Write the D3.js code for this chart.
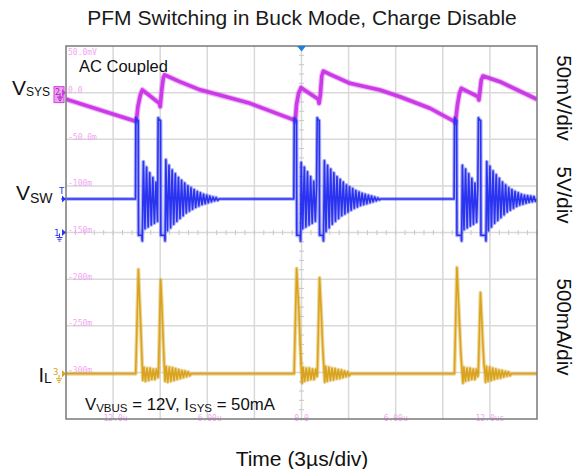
<!DOCTYPE html>
<html><head><meta charset="utf-8">
<script src="https://cdn.jsdelivr.net/npm/d3@7"></script>
<style>body{margin:0;background:#fff}svg{display:block}</style>
</head><body>
<script>
// ---------- data ----------
const title = "PFM Switching in Buck Mode, Charge Disable";
const timeTicks = [-12, -6, 0, 6, 12];               // µs
const timeTickLabels = ["-12.0u", "-6.00u", "0.0", "6.00u", "12.0us"];
const scaleLabelDivs = [4, 3, 2, 1, 0, -1, -2, -3];
const scaleLabels = ["50.0mV", "0.0", "-50.0m", "-100m", "-150m", "-200m", "-250m", "-300m"];

// V_SYS (AC coupled) : [time µs, mV]
const vsys = [
  [-15.0, -7], [-10.52, -31], [-10.42, -15], [-10.27, -3], [-10.14, 3],
  [-9.05, -11.5], [-9.0, -15], [-8.90, 3], [-8.80, 16], [-8.72, 19],
  [-7.8, 12], [-6.46, 3], [-3.28, -11.5], [-0.45, -29.5], [-0.40, -31],
  [-0.32, -13], [-0.19, -1], [-0.03, 5.3], [1.07, -7], [1.12, -11.5],
  [1.20, -2.6], [1.29, 17.8], [1.39, 23], [1.82, 19.6], [3.09, 10],
  [5.0, 2.8], [6.27, -4.4], [8.18, -16.8], [9.74, -31], [9.80, -32.6],
  [9.93, -13.3], [10.06, -0.8], [10.18, 4.6], [11.24, -4.4], [11.30, -7.9],
  [11.36, 0.6], [11.45, 13.5], [11.56, 17.8], [12.64, 11.7], [15.0, -7.2]
];

// V_SW : [time µs, V]
const vsw = [
  [-15.0, 3.6],
  [-10.57, 3.6], [-10.55, 12.3], [-10.50, 12.1], [-10.40, 12.0], [-10.38, -0.3], [-10.17, -0.3], [-10.14, -0.9],
  [-10.07, 7.6], [-9.97, 0.4], [-9.87, 7.0], [-9.77, 0.6], [-9.67, 6.4], [-9.57, 0.8], [-9.47, 5.9], [-9.37, 1.0], [-9.27, 5.4], [-9.17, 1.2],
  [-9.13, 12.3], [-9.08, 12.1], [-8.98, 12.0], [-8.96, -0.3], [-8.72, -0.3], [-8.69, -0.9],
  [-8.64, 7.8], [-8.54, 0.2], [-8.44, 7.2], [-8.34, 0.5], [-8.24, 6.7], [-8.14, 0.9], [-8.04, 6.3], [-7.94, 1.2],
  [-7.84, 5.9], [-7.74, 1.5], [-7.64, 5.6], [-7.54, 1.8], [-7.44, 5.3], [-7.34, 2.1], [-7.24, 5.0], [-7.14, 2.3],
  [-7.04, 4.8], [-6.94, 2.5], [-6.84, 4.6], [-6.74, 2.7], [-6.64, 4.4], [-6.54, 2.85], [-6.44, 4.25], [-6.34, 3.0],
  [-6.24, 4.1], [-6.14, 3.1], [-6.04, 4.0], [-5.94, 3.2], [-5.84, 3.9], [-5.74, 3.3], [-5.64, 3.8], [-5.54, 3.4],
  [-5.44, 3.75], [-5.34, 3.45], [-5.24, 3.6],
  [-0.49, 3.6], [-0.46, 12.3], [-0.41, 12.1], [-0.32, 12.0], [-0.30, -0.3], [-0.09, -0.3], [-0.06, -0.9],
  [-0.02, 7.5], [0.08, 0.4], [0.18, 7.0], [0.28, 0.6], [0.38, 6.5], [0.48, 0.8], [0.58, 6.0], [0.68, 1.0], [0.78, 5.5], [0.88, 1.2], [0.96, 4.8],
  [1.00, 12.3], [1.05, 12.1], [1.13, 12.0], [1.15, -0.3], [1.37, -0.3], [1.40, -0.9],
  [1.46, 7.7], [1.56, 0.1], [1.66, 7.2], [1.76, 0.5], [1.86, 6.8], [1.96, 0.9], [2.06, 6.4], [2.16, 1.2],
  [2.26, 6.0], [2.36, 1.5], [2.46, 5.7], [2.56, 1.8], [2.66, 5.4], [2.76, 2.0], [2.86, 5.1], [2.96, 2.2],
  [3.06, 4.9], [3.16, 2.4], [3.26, 4.7], [3.36, 2.6], [3.46, 4.5], [3.56, 2.75], [3.66, 4.35], [3.76, 2.9],
  [3.86, 4.2], [3.96, 3.0], [4.06, 4.1], [4.16, 3.1], [4.26, 4.0], [4.36, 3.2], [4.46, 3.9], [4.56, 3.3],
  [4.66, 3.8], [4.76, 3.4], [4.86, 3.7], [4.96, 3.5], [5.06, 3.6],
  [9.72, 3.6], [9.75, 12.3], [9.80, 12.1], [9.88, 12.0], [9.90, -0.3], [10.17, -0.3], [10.20, -0.9],
  [10.25, 7.2], [10.35, 0.3], [10.45, 6.8], [10.55, 0.5], [10.65, 6.3], [10.75, 0.7], [10.85, 5.8], [10.95, 0.9], [11.05, 5.3], [11.15, 1.1], [11.23, 4.8],
  [11.27, 12.3], [11.32, 12.1], [11.41, 12.0], [11.43, -0.3], [11.72, -0.3], [11.75, -0.9],
  [11.80, 7.6], [11.90, 0.2], [12.00, 7.1], [12.10, 0.6], [12.20, 6.6], [12.30, 1.0], [12.40, 6.2], [12.50, 1.3],
  [12.60, 5.8], [12.70, 1.6], [12.80, 5.4], [12.90, 1.9], [13.00, 5.1], [13.10, 2.2], [13.20, 4.8], [13.30, 2.4],
  [13.40, 4.6], [13.50, 2.6], [13.60, 4.4], [13.70, 2.8], [13.80, 4.25], [13.90, 2.95], [14.00, 4.1], [14.10, 3.05],
  [14.20, 4.0], [14.30, 3.15], [14.40, 3.95], [14.50, 3.25], [14.60, 3.9], [14.70, 3.3], [14.80, 3.85], [14.90, 3.35], [15.0, 3.6]
];

// I_L : [time µs, A]
const il = [
  [-15.0, 0],
  [-10.56, 0], [-10.39, 1.12], [-10.33, 0.87], [-10.24, 0.51], [-10.16, 0.15], [-10.11, -0.07],
  [-10.04, 0.07], [-9.94, -0.08], [-9.84, 0.06], [-9.74, -0.07], [-9.64, 0.06], [-9.54, -0.06], [-9.44, 0.05], [-9.34, -0.06], [-9.24, 0.05], [-9.14, -0.04],
  [-9.11, 0], [-8.97, 1.01], [-8.91, 0.80], [-8.83, 0.45], [-8.75, 0.12], [-8.69, -0.08],
  [-8.62, 0.08], [-8.52, -0.09], [-8.42, 0.07], [-8.32, -0.08], [-8.22, 0.065], [-8.12, -0.07], [-8.02, 0.055], [-7.92, -0.06],
  [-7.82, 0.045], [-7.72, -0.05], [-7.62, 0.035], [-7.52, -0.04], [-7.42, 0.03], [-7.32, -0.03], [-7.22, 0.02], [-7.12, -0.02], [-7.02, 0],
  [-0.47, 0], [-0.31, 1.13], [-0.24, 0.90], [-0.16, 0.65], [-0.08, 0.29], [0.01, 0.0], [0.04, -0.10],
  [0.10, 0.07], [0.20, -0.08], [0.30, 0.06], [0.40, -0.07], [0.50, 0.06], [0.60, -0.06], [0.70, 0.05], [0.80, -0.06], [0.90, 0.05], [0.98, -0.03],
  [1.01, 0], [1.15, 1.03], [1.26, 0.65], [1.35, 0.29], [1.45, 0.0], [1.48, -0.09],
  [1.54, 0.08], [1.64, -0.08], [1.74, 0.07], [1.84, -0.07], [1.94, 0.06], [2.04, -0.065], [2.14, 0.055], [2.24, -0.055],
  [2.34, 0.045], [2.44, -0.05], [2.54, 0.04], [2.64, -0.04], [2.74, 0.03], [2.84, -0.03], [2.94, 0.02], [3.04, -0.02], [3.14, 0],
  [9.74, 0], [9.90, 1.14], [9.98, 0.85], [10.06, 0.55], [10.15, 0.22], [10.24, 0.0], [10.28, -0.10],
  [10.34, 0.07], [10.44, -0.08], [10.54, 0.06], [10.64, -0.07], [10.74, 0.06], [10.84, -0.06], [10.94, 0.05], [11.04, -0.06], [11.14, 0.05], [11.22, -0.03],
  [11.26, 0], [11.40, 0.87], [11.47, 0.62], [11.55, 0.33], [11.63, 0.08], [11.69, 0.0], [11.72, -0.09],
  [11.78, 0.08], [11.88, -0.08], [11.98, 0.07], [12.08, -0.07], [12.18, 0.06], [12.28, -0.06], [12.38, 0.05], [12.48, -0.05],
  [12.58, 0.04], [12.68, -0.045], [12.78, 0.035], [12.88, -0.035], [12.98, 0.025], [13.08, -0.025], [13.18, 0.02], [13.28, -0.02], [13.38, 0],
  [15.0, 0]
];

// ---------- drawing ----------
const W = 578, H = 469;
const P = {l: 66, r: 537, t: 46, b: 419};
const FONT = "'Liberation Sans', Arial, Helvetica, sans-serif";
const MONO = "'DejaVu Sans Mono', 'Liberation Mono', monospace";
const pink = "#f2a6f2";

const svg = d3.select("body").append("svg").attr("width", W).attr("height", H);
const x = d3.scaleLinear().domain([-15, 15]).range([P.l, P.r]);
const y = d3.scaleLinear().domain([-4, 4]).range([P.b, P.t]);

svg.append("defs").append("clipPath").attr("id", "clip")
  .append("rect").attr("x", P.l).attr("y", P.t).attr("width", P.r - P.l).attr("height", P.b - P.t);

// grid
const grid = svg.append("g");
grid.selectAll("line.v").data(d3.range(-12, 13, 3)).join("line")
  .attr("x1", d => x(d)).attr("x2", d => x(d)).attr("y1", P.t).attr("y2", P.b)
  .attr("stroke", "#d9d9d9").attr("stroke-width", 1.5);
grid.selectAll("line.h").data(d3.range(-3, 4, 1)).join("line")
  .attr("y1", d => y(d)).attr("y2", d => y(d)).attr("x1", P.l).attr("x2", P.r)
  .attr("stroke", "#d9d9d9").attr("stroke-width", 1.5);
// center ticks
const minorT = d3.range(-15, 15.01, 0.6);
grid.selectAll("line.tx").data(minorT).join("line")
  .attr("x1", d => x(d)).attr("x2", d => x(d)).attr("y1", y(0) - 2.5).attr("y2", y(0) + 2.5)
  .attr("stroke", "#c8c8c8").attr("stroke-width", 1);
const minorD = d3.range(-4, 4.01, 0.2);
grid.selectAll("line.ty").data(minorD).join("line")
  .attr("y1", d => y(d)).attr("y2", d => y(d)).attr("x1", x(0) - 2.5).attr("x2", x(0) + 2.5)
  .attr("stroke", "#c8c8c8").attr("stroke-width", 1);

// pink scale labels
svg.selectAll("text.sl").data(scaleLabelDivs).join("text")
  .attr("x", P.l + 2).attr("y", (d, i) => d === 4 ? y(d) + 9 : y(d) + 0.5)
  .attr("font-family", MONO).attr("font-size", 8).attr("fill", pink)
  .text((d, i) => scaleLabels[i]);

// time labels
svg.selectAll("text.tl").data(timeTicks).join("text")
  .attr("x", d => x(d)).attr("y", P.b + 1.5).attr("text-anchor", "middle")
  .attr("font-family", MONO).attr("font-size", 8).attr("fill", pink)
  .text((d, i) => timeTickLabels[i]);

// traces
const channels = [
  {data: vsys, pos: 3, perDiv: 50, color: "#cc3ae8", w: 3.6, halo: 5.8, haloOp: 0.35},
  {data: il, pos: -3.03, perDiv: 0.5, color: "#d9a31e", w: 1.6, halo: 3.8, haloOp: 0.45},
  {data: vsw, pos: 0, perDiv: 5, color: "#2a33f0", w: 1.6, halo: 3.8, haloOp: 0.4}
];
const traces = svg.append("g").attr("clip-path", "url(#clip)");
channels.forEach(c => {
  const line = d3.line().x(d => x(d[0])).y(d => y(c.pos + d[1] / c.perDiv));
  traces.append("path").attr("d", line(c.data)).attr("fill", "none")
    .attr("stroke", c.color).attr("stroke-width", c.halo).attr("stroke-opacity", c.haloOp)
    .attr("stroke-linejoin", "round");
  traces.append("path").attr("d", line(c.data)).attr("fill", "none")
    .attr("stroke", c.color).attr("stroke-width", c.w).attr("stroke-linejoin", "round");
});

// border
svg.append("rect").attr("x", P.l).attr("y", P.t).attr("width", P.r - P.l).attr("height", P.b - P.t)
  .attr("fill", "none").attr("stroke", "#7a7a7a").attr("stroke-width", 1.5);

// trigger marker
svg.append("path").attr("d", `M${x(0) - 4.5},${P.t} L${x(0) + 4.5},${P.t} L${x(0)},${P.t + 5.5} Z`).attr("fill", "#1f7fe0");

// channel markers
function ground(g, cx, cy, col) {
  g.append("line").attr("x1", cx).attr("x2", cx).attr("y1", cy).attr("y2", cy + 4).attr("stroke", col).attr("stroke-width", 1);
  [[3, 4], [2, 5.8], [1, 7.6]].forEach(([hw, dy]) =>
    g.append("line").attr("x1", cx - hw).attr("x2", cx + hw).attr("y1", cy + dy).attr("y2", cy + dy).attr("stroke", col).attr("stroke-width", 1));
}
function arrow(g, yy, col) {
  g.append("path").attr("d", `M${P.l - 4},${yy - 3.5} L${P.l},${yy} L${P.l - 4},${yy + 3.5} Z`).attr("fill", col);
}
const mk = svg.append("g");
// ch2
const y2 = y(3);
mk.append("rect").attr("x", 54).attr("y", y2 - 6).attr("width", 10).attr("height", 16)
  .attr("fill", "#f0a0f0").attr("stroke", "#d040e0").attr("stroke-width", 1);
mk.append("text").attr("x", 55).attr("y", y2 + 2).attr("font-family", MONO).attr("font-size", 8).attr("fill", "#a020b0").text("2");
ground(mk, 60, y2 + 0.5, "#a020b0");
arrow(mk, y2, "#cc3ae8");
// ch1 trigger level T
const ySwBase = y(3.6 / 5);
mk.append("text").attr("x", 59).attr("y", ySwBase - 5).attr("font-family", MONO).attr("font-size", 9).attr("fill", "#2a33f0").text("T");
arrow(mk, ySwBase, "#2a33f0");
mk.append("line").attr("x1", P.l - 5).attr("x2", P.l).attr("y1", ySwBase).attr("y2", ySwBase).attr("stroke", "#2a33f0");
// ch1 ground
const y1 = y(0);
mk.append("text").attr("x", 54).attr("y", y1 + 3).attr("font-family", MONO).attr("font-size", 9).attr("fill", "#2a33f0").text("1");
ground(mk, 59.5, y1 + 1, "#2a33f0");
arrow(mk, y1, "#2a33f0");
// ch3 ground
const y3 = y(-3.03);
mk.append("text").attr("x", 53).attr("y", y3 + 1).attr("font-family", MONO).attr("font-size", 9).attr("fill", "#d9a31e").text("3");
ground(mk, 59, y3 + 1, "#d9a31e");
arrow(mk, y3, "#d9a31e");

// texts
svg.append("text").attr("x", 302).attr("y", 25).attr("text-anchor", "middle")
  .attr("font-family", FONT).attr("font-size", 21).attr("fill", "#1a1a1a").text(title);
svg.append("text").attr("x", 79).attr("y", 72)
  .attr("font-family", FONT).attr("font-size", 16.5).attr("fill", "#111").text("AC Coupled");

function subLabel(xx, yy, main, sub, ms, ss, dy) {
  const t = svg.append("text").attr("x", xx).attr("y", yy).attr("font-family", FONT).attr("fill", "#111");
  t.append("tspan").attr("font-size", ms).text(main);
  t.append("tspan").attr("font-size", ss).attr("dy", dy).text(sub);
  return t;
}
subLabel(12, 95, "V", "SYS", 21, 12, 1);
subLabel(16, 200, "V", "SW", 21, 14, 2.7);
subLabel(38.5, 381.5, "I", "L", 20, 14, 1.5);

const bt = svg.append("text").attr("x", 85).attr("y", 409.5).attr("font-family", FONT).attr("fill", "#111");
bt.append("tspan").attr("font-size", 16.8).text("V");
bt.append("tspan").attr("font-size", 11.5).attr("dy", 2).text("VBUS");
bt.append("tspan").attr("font-size", 16.8).attr("dy", -2).text(" = 12V, I");
bt.append("tspan").attr("font-size", 11.5).attr("dy", 2).text("SYS");
bt.append("tspan").attr("font-size", 16.8).attr("dy", -2).text(" = 50mA");

[["50mV/div", 98], ["5V/div", 195], ["500mA/div", 327]].forEach(([s, cy]) => {
  svg.append("text").attr("transform", `translate(556.5,${cy}) rotate(90)`).attr("text-anchor", "middle")
    .attr("font-family", FONT).attr("font-size", 20.5).attr("fill", "#111").text(s);
});

svg.append("text").attr("x", 302).attr("y", 466).attr("text-anchor", "middle")
  .attr("font-family", FONT).attr("font-size", 21).attr("fill", "#111").text("Time (3\u00b5s/div)");
</script>
</body></html>
